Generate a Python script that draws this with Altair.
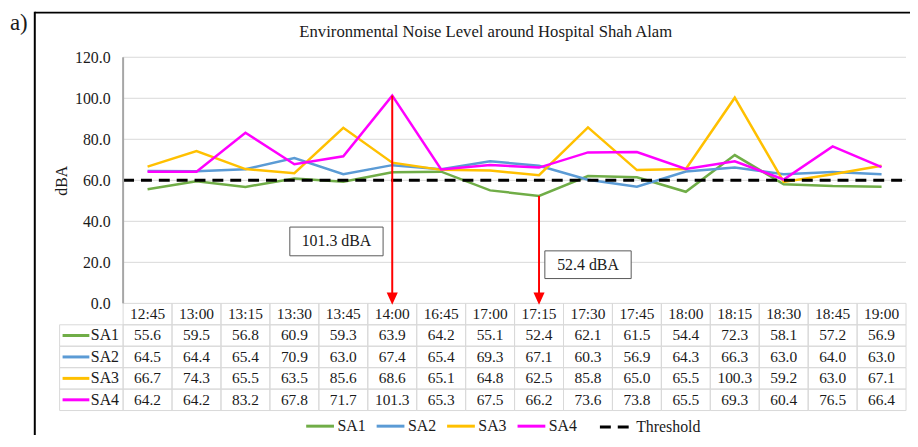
import altair as alt
import pandas as pd

# ---------------- data ----------------
times = ["12:45", "13:00", "13:15", "13:30", "13:45", "14:00", "16:45", "17:00",
         "17:15", "17:30", "17:45", "18:00", "18:15", "18:30", "18:45", "19:00"]
sa1 = [55.6, 59.5, 56.8, 60.9, 59.3, 63.9, 64.2, 55.1, 52.4, 62.1, 61.5, 54.4, 72.3, 58.1, 57.2, 56.9]
sa2 = [64.5, 64.4, 65.4, 70.9, 63.0, 67.4, 65.4, 69.3, 67.1, 60.3, 56.9, 64.3, 66.3, 63.0, 64.0, 63.0]
sa3 = [66.7, 74.3, 65.5, 63.5, 85.6, 68.6, 65.1, 64.8, 62.5, 85.8, 65.0, 65.5, 100.3, 59.2, 63.0, 67.1]
sa4 = [64.2, 64.2, 83.2, 67.8, 71.7, 101.3, 65.3, 67.5, 66.2, 73.6, 73.8, 65.5, 69.3, 60.4, 76.5, 66.4]
series_names = ["SA1", "SA2", "SA3", "SA4"]
threshold_name = "Threshold"
threshold = 60.0
y_ticks = [0, 20, 40, 60, 80, 100, 120]
title_text = "Environmental Noise Level around Hospital Shah Alam"
panel_label = "a)"
y_title = "dBA"

# ---------------- style ----------------
FONT = "Liberation Serif"
TXT = "#1a1a1a"
GRID = "#d9d9d9"
colors = ["#70ad47", "#5b9bd5", "#ffc000", "#ff00ff"]
th_dash = [11, 7]

W, H = 853, 356
n = len(times)
x_lo = -64 / 49.3125          # label column of the data table
y_lo = -52.26                 # bottom of the data table
row_h = -y_lo / 5

XS = alt.Scale(domain=[x_lo, n], nice=False, zero=False)
YS = alt.Scale(domain=[y_lo, 120], nice=False, zero=False)
YAX = alt.Axis(values=y_ticks, format=".1f", offset=-64, grid=False, domain=False,
               ticks=False, tickSize=0, labelPadding=13, labelFontSize=16, labelFont=FONT,
               labelColor=TXT, title=y_title, titleFont=FONT, titleFontSize=16,
               titleFontWeight="normal", titleColor=TXT, titleAngle=-90,
               titleX=-62, titleY=124, titleBaseline="middle", titleAlign="center")


def X(f):
    return alt.X(f, type="quantitative", scale=XS, axis=None)


def Y(f):
    return alt.Y(f, type="quantitative", scale=YS, axis=YAX)


LEG = alt.Legend(orient="none", legendX=247, legendY=356, direction="horizontal",
                 columns=4, title=None, symbolType="stroke", symbolSize=784,
                 symbolStrokeWidth=3, labelFont=FONT, labelFontSize=16, labelColor=TXT,
                 labelOffset=2, columnPadding=4, padding=0)
LEG_TH = alt.Legend(orient="none", legendX=543, legendY=356, title=None,
                    symbolType="stroke", symbolSize=900, symbolStrokeWidth=3,
                    symbolStrokeColor="black", labelFont=FONT, labelFontSize=16,
                    labelColor=TXT, labelOffset=5, padding=0)
COLOR = alt.Color("series:N", scale=alt.Scale(domain=series_names, range=colors), legend=LEG)
DASH = alt.StrokeDash("series:N", scale=alt.Scale(domain=[threshold_name], range=[th_dash]),
                      legend=LEG_TH)

# ---------------- tables ----------------
vals = [sa1, sa2, sa3, sa4]
line_rows = []
for s, v in zip(series_names, vals):
    for i, t in enumerate(times):
        line_rows.append({"series": s, "time": t, "x": i + 0.5, "value": v[i]})
df_lines = pd.DataFrame(line_rows)

df_th = pd.DataFrame([{"series": threshold_name, "x0": 0, "x1": n, "value": threshold}])
df_grid = pd.DataFrame({"value": y_ticks[1:], "x0": 0, "x1": n})
df_axis = pd.DataFrame([{"x": 0, "y0": 0, "y1": y_ticks[-1]}])

cells = []
for i in range(n):
    for r in range(5):
        cells.append({"x0": i, "x1": i + 1, "y0": -r * row_h, "y1": -(r + 1) * row_h})
for r in range(1, 5):
    cells.append({"x0": x_lo, "x1": 0, "y0": -r * row_h, "y1": -(r + 1) * row_h})
df_cells = pd.DataFrame(cells)

texts = []
for i, t in enumerate(times):
    texts.append({"x": i + 0.5, "y": -0.5 * row_h, "label": t})
for r, v in enumerate(vals):
    for i in range(n):
        texts.append({"x": i + 0.5, "y": -(r + 1.5) * row_h, "label": f"{v[i]:.1f}"})
df_text = pd.DataFrame(texts)

df_keys = pd.DataFrame([{"series": s, "x0": -1.237, "x1": -0.69, "xl": -0.66,
                         "y": -(r + 1.5) * row_h} for r, s in enumerate(series_names)])

# arrows: maximum of SA4 and minimum of SA1
i_max = sa4.index(max(sa4))
i_min = sa1.index(min(sa1))
head_y = 2.66
df_arrows = pd.DataFrame([
    {"x": i_max + 0.5, "v": sa4[i_max], "h": head_y},
    {"x": i_min + 0.5, "v": sa1[i_min], "h": head_y},
])
df_notes = pd.DataFrame([
    {"label": f"{sa4[i_max]:.1f} dBA", "x0": 3.407, "x1": 5.313, "y0": 37.2, "y1": 23.2},
    {"label": f"{sa1[i_min]:.1f} dBA", "x0": 8.619, "x1": 10.383, "y0": 25.6, "y1": 12.1},
])
df_notes["xc"] = (df_notes.x0 + df_notes.x1) / 2
df_notes["yc"] = (df_notes.y0 + df_notes.y1) / 2

one = pd.DataFrame({"k": [0]})

# ---------------- layers ----------------
grid = alt.Chart(df_grid).mark_rule(stroke=GRID, strokeWidth=1).encode(
    x=X("x0"), x2="x1", y=Y("value"))

cell_l = alt.Chart(df_cells).mark_rect(fillOpacity=0, stroke=GRID, strokeWidth=1).encode(
    x=X("x0"), x2="x1", y=Y("y0"), y2="y1")

text_l = alt.Chart(df_text).mark_text(font=FONT, fontSize=15.5, color=TXT, baseline="middle").encode(
    x=X("x"), y=Y("y"), text="label:N")

key_sw = alt.Chart(df_keys).mark_rule(strokeWidth=3).encode(
    x=X("x0"), x2="x1", y=Y("y"), color=COLOR)
key_tx = alt.Chart(df_keys).mark_text(font=FONT, fontSize=16, color=TXT, align="left",
                                      baseline="middle").encode(
    x=X("xl"), y=Y("y"), text="series:N")

lines = alt.Chart(df_lines).mark_line(strokeWidth=2.5).encode(
    x=X("x"), y=Y("value"), color=COLOR, order="x:Q")

th = alt.Chart(df_th).mark_rule(strokeWidth=3, stroke="black").encode(
    x=X("x0"), x2="x1", y=Y("value"), strokeDash=DASH)

yaxis_line = alt.Chart(df_axis).mark_rule(stroke="#a6a6a6", strokeWidth=2).encode(
    x=X("x"), y=Y("y0"), y2="y1")

shaft = alt.Chart(df_arrows).mark_rule(stroke="#ff0000", strokeWidth=2).encode(
    x=X("x"), y=Y("v"), y2="h")
head = alt.Chart(df_arrows).mark_point(shape="M-0.9,-1L0.9,-1L0,1Z", size=81, filled=True,
                                       fill="#ff0000", stroke="#ff0000", opacity=1).encode(
    x=X("x"), y=Y("h"))

note_box = alt.Chart(df_notes).mark_rect(fill="white", stroke="#595959", strokeWidth=1).encode(
    x=X("x0"), x2="x1", y=Y("y0"), y2="y1")
note_tx = alt.Chart(df_notes).mark_text(font=FONT, fontSize=16, color=TXT, baseline="middle").encode(
    x=X("xc"), y=Y("yc"), text="label:N")

title_l = alt.Chart(one).mark_text(font=FONT, fontSize=16.8, color=TXT, align="center",
                                   baseline="middle").encode(
    x=alt.value(W / 2 + 3), y=alt.value(-25), text=alt.value(title_text))
frame_top = alt.Chart(one).mark_rule(stroke="black", strokeWidth=2).encode(
    x=alt.value(-25), x2=alt.value(870), y=alt.value(-45))
frame_left = alt.Chart(one).mark_rule(stroke="black", strokeWidth=2).encode(
    x=alt.value(-25), y=alt.value(-46), y2=alt.value(400))
tag = alt.Chart(one).mark_text(font=FONT, fontSize=23, color=TXT, align="left",
                               baseline="alphabetic").encode(
    x=alt.value(-50), y=alt.value(-27), text=alt.value(panel_label))

chart = alt.layer(
    grid, cell_l, text_l, key_sw, key_tx, lines, th, yaxis_line,
    shaft, head, note_box, note_tx, title_l, frame_top, frame_left, tag
).properties(
    width=W, height=H,
    autosize=alt.AutoSizeParams(type="none"),
    padding={"left": 52, "top": 48, "right": 4, "bottom": 23},
).configure_view(stroke=None).configure_legend(
    symbolStrokeWidth=3, labelFont=FONT, labelFontSize=16, labelColor=TXT)

chart.save("out.html", embed_options={"renderer": "svg", "actions": False})
